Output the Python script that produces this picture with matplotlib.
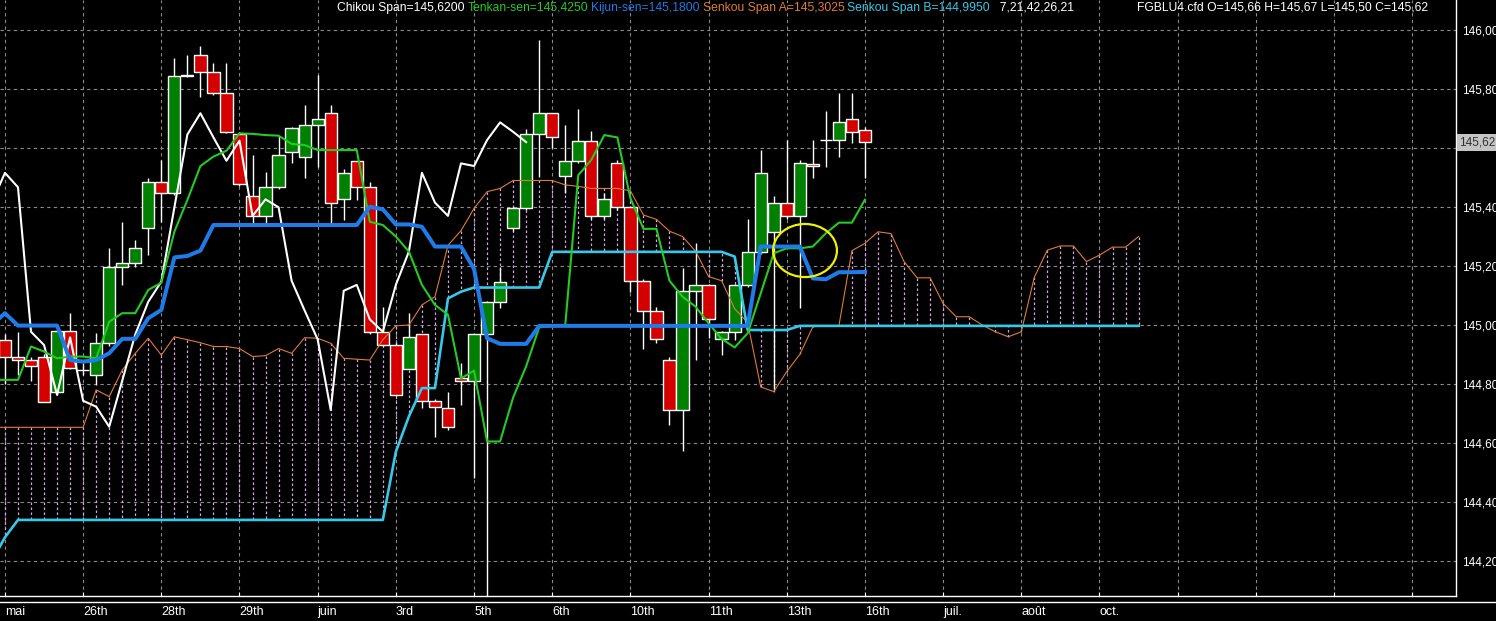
import numpy as np
import matplotlib.pyplot as plt
from matplotlib.patches import Rectangle, Ellipse
from matplotlib.lines import Line2D

plt.rcParams['font.family'] = ['Liberation Sans', 'DejaVu Sans']

# daily candles, bars 0..66
opens = [144.95, 144.89, 144.88, 144.89, 144.774, 144.98, 144.848, 144.83, 144.94, 145.198,
         145.209, 145.328, 145.486, 145.446, 145.845, 145.915, 145.857, 145.785, 145.647, 145.437,
         145.37, 145.467, 145.588, 145.568, 145.678, 145.718, 145.426, 145.557, 145.467, 144.977,
         144.932, 144.85, 144.969, 144.742, 144.72, 144.819, 144.81, 144.968, 145.079, 145.328,
         145.398, 145.646, 145.718, 145.506, 145.557, 145.625, 145.37, 145.548, 145.399, 145.15,
         145.049, 144.881, 144.712, 145.116, 145.136, 144.951, 144.977, 145.136, 145.249, 145.316,
         145.415, 145.37, 145.546, 145.627, 145.627, 145.697, 145.66]
highs = [144.97, 144.975, 144.89, 144.90, 144.98, 145.04, 144.87, 144.972, 145.26, 145.35,
         145.288, 145.497, 145.559, 145.904, 145.915, 145.946, 145.887, 145.887, 145.655, 145.576,
         145.52, 145.64, 145.67, 145.746, 145.847, 145.746, 145.528, 145.557, 145.486, 145.062,
         144.94, 145.04, 144.97, 144.75, 144.774, 144.87, 144.97, 145.08, 145.198, 145.40,
         145.666, 145.966, 145.72, 145.678, 145.734, 145.659, 145.446, 145.56, 145.40, 145.155,
         145.062, 144.893, 145.192, 145.277, 145.14, 144.98, 145.14, 145.358, 145.595, 145.437,
         145.627, 145.56, 145.627, 145.727, 145.785, 145.785, 145.67]
lows = [144.80, 144.83, 144.81, 144.74, 144.763, 144.85, 144.83, 144.797, 144.93, 145.136,
        145.198, 145.237, 145.35, 145.44, 145.84, 145.774, 145.78, 145.65, 145.47, 145.347,
        145.347, 145.46, 145.548, 145.497, 145.537, 145.347, 145.356, 145.424, 144.97, 144.93,
        144.76, 144.85, 144.717, 144.62, 144.644, 144.729, 144.48, 144.05, 145.056, 145.32,
        145.39, 145.503, 145.60, 145.446, 145.55, 145.36, 145.36, 145.39, 145.113, 144.92,
        144.938, 144.661, 144.571, 144.881, 144.955, 144.898, 144.95, 145.13, 145.24, 144.78,
        145.36, 145.056, 145.497, 145.537, 145.568, 145.616, 145.50]
closes = [144.89, 144.88, 144.86, 144.74, 144.98, 144.853, 144.848, 144.94, 145.198, 145.209,
          145.26, 145.486, 145.446, 145.845, 145.848, 145.857, 145.785, 145.655, 145.478, 145.37,
          145.467, 145.576, 145.667, 145.678, 145.697, 145.415, 145.516, 145.467, 144.977, 144.932,
          144.763, 144.958, 144.743, 144.723, 144.655, 144.811, 144.968, 145.079, 145.147, 145.398,
          145.646, 145.718, 145.636, 145.557, 145.625, 145.37, 145.426, 145.399, 145.15, 145.049,
          144.951, 144.712, 145.116, 145.136, 145.019, 144.977, 145.136, 145.249, 145.516, 145.415,
          145.37, 145.548, 145.539, 145.627, 145.687, 145.655, 145.62]

# indicator lines start one bar before the first candle (bar -1)
tenkan = [144.814, 144.814, 144.814, 144.927, 144.91, 144.887, 144.893, 144.893, 144.887, 145.011,
          145.04, 145.04, 145.119, 145.143, 145.316, 145.424, 145.539, 145.571, 145.591, 145.65,
          145.648, 145.644, 145.642, 145.614, 145.61, 145.593, 145.593, 145.593, 145.593, 145.35,
          145.339, 145.30, 145.249, 145.136, 145.068, 145.035, 144.819, 144.845, 144.605, 144.605,
          144.754, 144.86, 144.992, 144.997, 145.0, 145.508, 145.56, 145.644, 145.636, 145.43,
          145.326, 145.326, 145.15, 145.096, 145.062, 145.006, 144.953, 144.924, 144.972, 145.107,
          145.243, 145.26, 145.26, 145.266, 145.311, 145.347, 145.347, 145.425]
kijun = [145.0, 145.04, 144.998, 144.998, 144.998, 144.998, 144.881, 144.876, 144.881, 144.904,
         144.953, 144.953, 145.023, 145.051, 145.229, 145.234, 145.252, 145.339, 145.339, 145.339,
         145.339, 145.339, 145.339, 145.339, 145.339, 145.339, 145.339, 145.339, 145.339, 145.401,
         145.392, 145.341, 145.341, 145.333, 145.266, 145.266, 145.266, 145.19, 144.955, 144.936,
         144.936, 144.936, 144.997, 144.997, 144.997, 144.997, 144.997, 144.997, 144.997, 144.997,
         144.997, 144.997, 144.997, 144.997, 144.997, 144.997, 144.997, 144.997, 144.997, 145.266,
         145.266, 145.266, 145.266, 145.158, 145.155, 145.179, 145.179, 145.18]
span_a = [144.653, 144.653, 144.653, 144.653, 144.653, 144.653, 144.653, 144.653, 144.78, 144.757,
          144.847, 144.904, 144.955, 144.898, 144.96, 144.95, 144.94, 144.927, 144.927, 144.92,
          144.893, 144.896, 144.92, 144.904, 144.957, 144.955, 144.938, 144.887, 144.884, 144.881,
          144.95, 144.997, 145.0, 145.068, 145.096, 145.27, 145.32, 145.395, 145.452, 145.463,
          145.49, 145.49, 145.49, 145.49, 145.475, 145.47, 145.463, 145.463, 145.463, 145.455,
          145.373, 145.358, 145.318, 145.30, 145.25, 145.164, 145.15, 145.055, 145.008, 144.79,
          144.774, 144.842, 144.9, 144.994, 144.997, 144.997, 145.252, 145.277, 145.316, 145.31,
          145.215, 145.16, 145.16, 145.073, 145.028, 145.028, 145.0, 144.977, 144.96, 144.977,
          145.162, 145.254, 145.268, 145.268, 145.215, 145.237, 145.264, 145.264, 145.30]
span_b = [144.20, 144.28, 144.339, 144.339, 144.339, 144.339, 144.339, 144.339, 144.339, 144.339,
          144.339, 144.339, 144.339, 144.339, 144.339, 144.339, 144.339, 144.339, 144.339, 144.339,
          144.339, 144.339, 144.339, 144.339, 144.339, 144.339, 144.339, 144.339, 144.339, 144.339,
          144.339, 144.57, 144.69, 144.786, 144.786, 145.09, 145.113, 145.127, 145.127, 145.127,
          145.127, 145.127, 145.127, 145.248, 145.248, 145.248, 145.248, 145.248, 145.248, 145.248,
          145.248, 145.248, 145.248, 145.248, 145.248, 145.248, 145.248, 145.232, 144.983, 144.983,
          144.983, 144.983, 144.997, 144.997, 144.997, 144.997, 144.997, 144.997, 144.997, 144.997,
          144.997, 144.997, 144.997, 144.997, 144.997, 144.997, 144.997, 144.997, 144.997, 144.997,
          144.997, 144.997, 144.997, 144.997, 144.997, 144.997, 144.997, 144.997, 144.997]
# chikou span = close shifted back 26 bars, first point at bar -1
chikou = closes[25:]

tick_labels = ["mai", "26th", "28th", "29th", "juin", "3rd", "5th", "6th", "10th", "11th",
               "13th", "16th", "juil.", "août", "oct."]
y_ticks = [144.2, 144.4, 144.6, 144.8, 145.0, 145.2, 145.4, 145.6, 145.8, 146.0]

header_parts = [("Chikou Span=145,6200", "white"),
                ("Tenkan-sen=145,4250", "#22cc22"),
                ("Kijun-sen=145,1800", "#1f7be8"),
                ("Senkou Span A=145,3025", "#e07b35"),
                ("Senkou Span B=144,9950", "#36c8e8"),
                ("  7,21,42,26,21", "white")]
symbol_text = "FGBLU4.cfd O=145,66 H=145,67 L=145,50 C=145,62"

W, H = 1496, 621
fig = plt.figure(figsize=(W / 100, H / 100), dpi=100, facecolor="black")
ax = fig.add_axes([0, 25 / H, 1456 / W, 596 / H], facecolor="black")

line_x = np.arange(-1, -1 + len(span_a))
bars = np.arange(len(closes))

# grid
for v in y_ticks:
    ax.axhline(v, color="#8a8a8a", lw=0.8, ls=(0, (3, 3)), zorder=1)
for b in range(0, 112, 6):
    ax.axvline(b, color="#8a8a8a", lw=0.8, ls=(0, (3, 3)), zorder=1)

# cloud hatching
ax.vlines(line_x, span_a, span_b, colors="#d9a0e8", lw=0.9, linestyles=(0, (2, 2)), zorder=2)

# candles
w = 0.94
for i in bars:
    o, h, l, c = opens[i], highs[i], lows[i], closes[i]
    ax.vlines(i, l, h, color="white", lw=1, zorder=3)
    face = "#008000" if c >= o else "#d40000"
    ax.add_patch(Rectangle((i - w / 2, min(o, c)), w, abs(c - o), facecolor=face,
                           edgecolor="white", lw=1, zorder=4))

ax.plot(line_x, span_a, color="#e07b35", lw=0.8, zorder=5)
ax.plot(line_x, span_b, color="#36c8e8", lw=1.9, zorder=5)
ax.plot(np.arange(-1, -1 + len(chikou)), chikou, color="white", lw=1.5, zorder=6)
ax.plot(line_x[:len(tenkan)], tenkan, color="#22cc22", lw=1.5, zorder=6)
ax.plot(line_x[:len(kijun)], kijun, color="#1f7be8", lw=2.9, zorder=6)

ax.add_patch(Ellipse((61.4, 145.2525), 4.9, 0.18, fill=False, edgecolor="#f0f000",
                     lw=1.6, zorder=7))

ax.set_xlim(-0.38, 111.36)
ax.set_ylim(144.081, 146.102)

for s in ["top", "left"]:
    ax.spines[s].set_visible(False)
for s in ["right", "bottom"]:
    ax.spines[s].set_color("white")
    ax.spines[s].set_linewidth(1)

xt = list(range(0, 112, 6))
ax.set_xticks(xt)
ax.set_xticklabels(tick_labels + [""] * (len(xt) - len(tick_labels)))
ax.tick_params(axis="x", direction="in", length=3, color="white", labelcolor="white",
               labelsize=9, pad=7.5)
for lab in ax.get_xticklabels():
    lab.set_ha("left")

ax.yaxis.tick_right()
ax.set_yticks(y_ticks)
# the 145,60 label sits under the current-price marker in the original
ax.set_yticklabels([f"{v:.2f}".replace(".", ",") if abs(v - 145.6) > 1e-6 else ""
                    for v in y_ticks])
ax.tick_params(axis="y", length=0, labelcolor="white", labelsize=8.5, pad=4)

# current price marker
ax.annotate(f"{closes[-1]:.2f}".replace(".", ","), xy=(1, closes[-1]),
            xycoords=ax.get_yaxis_transform(), xytext=(3, 0), textcoords="offset pixels",
            va="center", ha="left", fontsize=8.5, color="#303030", annotation_clip=False,
            bbox=dict(boxstyle="square,pad=0.2", facecolor="#c4c4c4", edgecolor="none"),
            zorder=10)

fig.add_artist(Line2D([0, 1], [1 - 602 / H] * 2, transform=fig.transFigure,
                      color="white", lw=1))

# header
fig.canvas.draw()
renderer = fig.canvas.get_renderer()
x_px = 337
for s, c in header_parts:
    t = fig.text(x_px / W, 1 - 8 / H, s, color=c, fontsize=8.7, va="center", ha="left")
    x_px += t.get_window_extent(renderer).width + 3
fig.text(1137 / W, 1 - 8 / H, symbol_text, color="white", fontsize=8.7, va="center", ha="left")

fig.savefig("out.png", dpi=100, facecolor="black")
